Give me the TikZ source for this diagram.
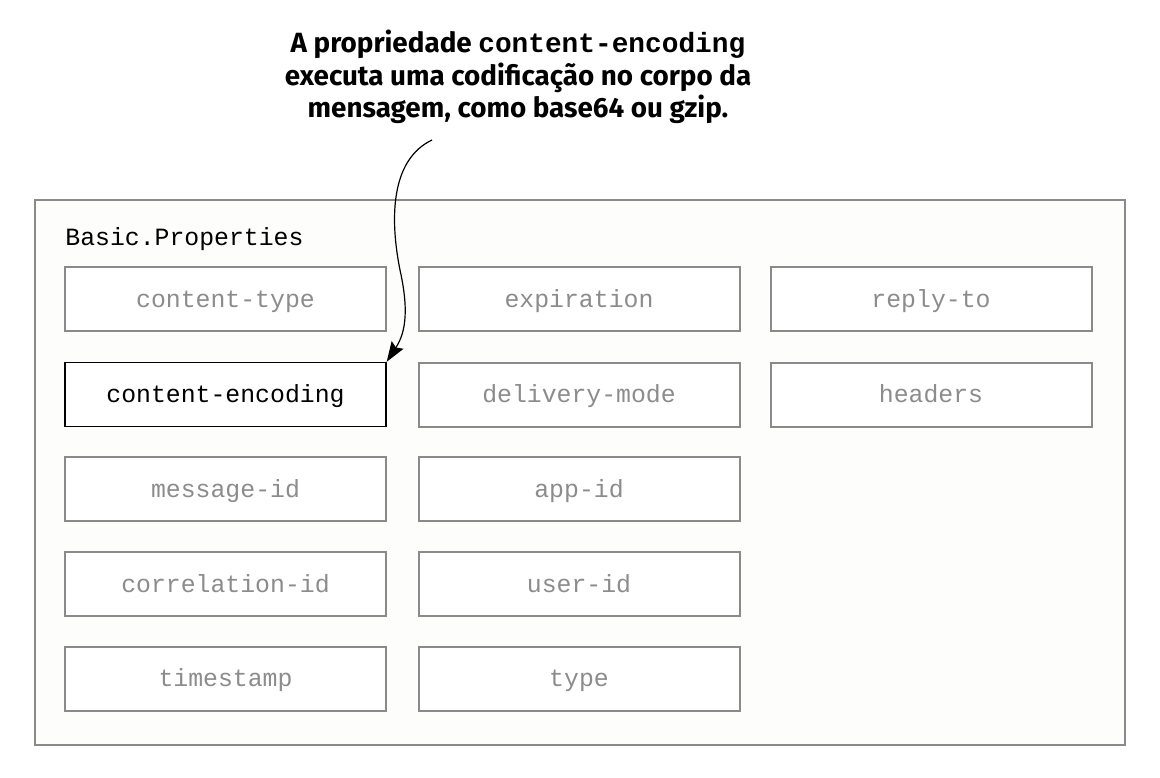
\documentclass[tikz,border=0pt]{standalone}
\usepackage{fontspec}
\setmainfont{Fira Sans}
\setmonofont{Liberation Mono}[BoldFont={Liberation Mono Bold}]
\usepackage{xcolor}
\usetikzlibrary{arrows.meta}
\definecolor{frame}{HTML}{8A8A8A}
\definecolor{faded}{HTML}{8C8C8C}
\definecolor{paper}{HTML}{FDFDFB}

\begin{document}
\begin{tikzpicture}[x=0.5pt, y=-0.5pt,
    prop/.style={draw=frame, line width=1pt, fill=white, minimum width=160.5pt,
        minimum height=32pt, inner sep=0pt, text height=10pt, text depth=2pt,
        font=\ttfamily\fontsize{12.4}{14}\selectfont, text=faded},
    active/.style={prop, draw=black, line width=0.7pt, text=black}]
    \useasboundingbox (0,0) rectangle (1160,777);

    % Callout text
    \node[align=center, font=\bfseries\fontsize{13.9}{16.3}\selectfont] (note) at (518,77)
        {A propriedade \texttt{\bfseries content-encoding}\\executa uma codificação no corpo da\\mensagem, como base64 ou gzip.};

    % Outer frame
    \draw[frame, line width=1pt, fill=paper] (35,200) rectangle (1125,745);
    \node[anchor=base west, inner sep=0pt, font=\ttfamily\fontsize{12.4}{14}\selectfont] (title) at (65,245) {Basic.Properties};

    % Column 1
    \node[prop] (ctype) at (225.5,299) {content-type};
    \node[active] (enc) at (225.5,394.5) {content-encoding};
    \node[prop] (msgid) at (225.5,489) {message-id};
    \node[prop] (corrid) at (225.5,584) {correlation-id};
    \node[prop] (tstamp) at (225.5,678.5) {timestamp};

    % Column 2
    \node[prop] (expir) at (579,299) {expiration};
    \node[prop] (dmode) at (579,394.5) {delivery-mode};
    \node[prop] (appid) at (579,489) {app-id};
    \node[prop] (userid) at (579,584) {user-id};
    \node[prop] (ptype) at (579,678.5) {type};

    % Column 3
    \node[prop] (replyto) at (931,299) {reply-to};
    \node[prop] (hdrs) at (931,394.5) {headers};

    % Pointer
    \coordinate (tail) at (432,140);
    \draw[-{Stealth[length=10pt, width=7pt, inset=1.5pt]}, line width=0.6pt] (tail)
        .. controls (390,160) and (390,220) .. (400,270)
        .. controls (410,315) and (404,335) .. (enc.north east);
\end{tikzpicture}
\end{document}
